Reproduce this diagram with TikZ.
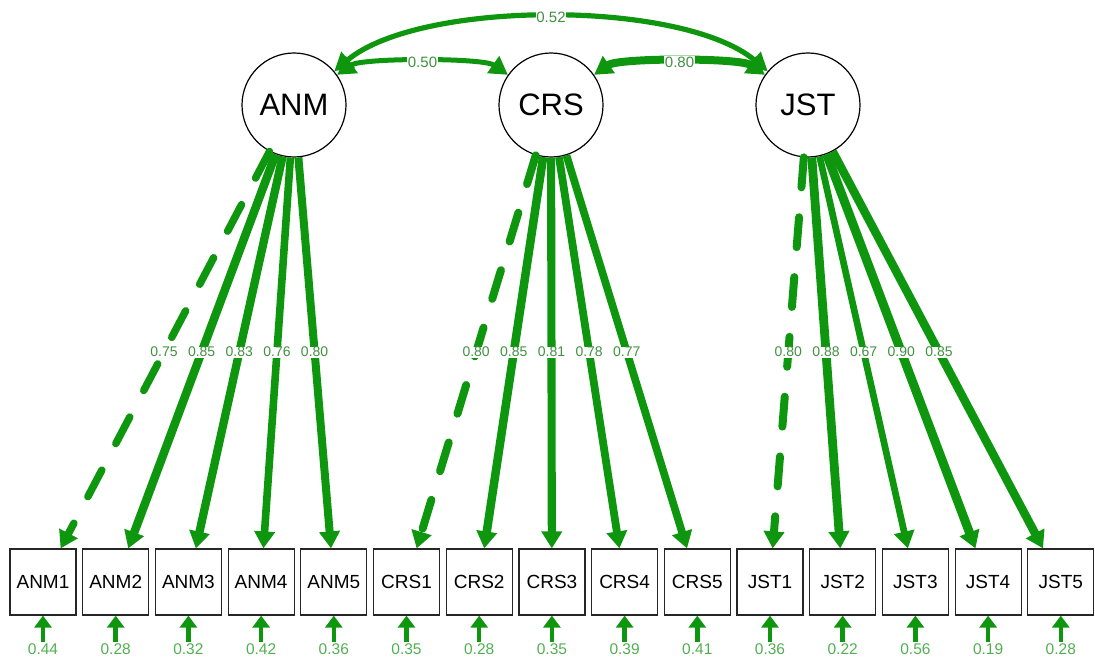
\documentclass[tikz,border=0pt]{standalone}
\usepackage{fontspec}
\setmainfont{Liberation Sans}
\usetikzlibrary{arrows.meta,calc}
\definecolor{eg}{RGB}{15,150,15}
\definecolor{lg}{RGB}{65,145,65}
\definecolor{rg}{RGB}{80,175,80}
\begin{document}
\begin{tikzpicture}[x=1pt,y=-1pt,
  lat/.style={circle, draw=black, line width=1.2pt, fill=white, minimum size=104pt, inner sep=0pt, font=\fontsize{31}{31}\selectfont},
  man/.style={rectangle, draw=black!85, line width=1.2pt, fill=white, minimum size=66pt, inner sep=0pt, font=\fontsize{19}{19}\selectfont},
  load/.style={draw=eg, -{Triangle[length=17pt,width=20pt]}},
  dashload/.style={load, line cap=round, dash pattern=on 30pt off 30pt},
  cov/.style={draw=eg, {Triangle[length=18pt,width=20pt]}-{Triangle[length=18pt,width=20pt]}},
  res/.style={draw=eg, line width=4.5pt, -{Triangle[length=12pt,width=17pt]}},
  llab/.style={fill=white, text=lg, inner sep=0.6pt, font=\fontsize{14}{14}\selectfont},
  clab/.style={fill=white, text=lg, inner sep=0.8pt, font=\fontsize{15}{15}\selectfont},
  rlab/.style={text=rg, inner sep=0pt, font=\fontsize{15.5}{15.5}\selectfont}]
\useasboundingbox (0,0) rectangle (1095,658);
% latent variables
\node[lat] (ANM) at (294,105) {ANM};
\node[lat] (CRS) at (551,105) {CRS};
\node[lat] (JST) at (808,105) {JST};
% manifest variables
\foreach \i/\n in {0/ANM1,1/ANM2,2/ANM3,3/ANM4,4/ANM5,5/CRS1,6/CRS2,7/CRS3,8/CRS4,9/CRS5,10/JST1,11/JST2,12/JST3,13/JST4,14/JST5}
  \node[man] (\n) at ({43+72.7*\i},582) {\n};
% covariances
\draw[cov, line width=5.2pt] (ANM) to[out=40,in=140,looseness=0.66] node[clab] (c52) {0.52} (JST);
\draw[cov, line width=5pt] (ANM) to[out=35,in=145,looseness=0.45] node[clab] (c50) {0.50} (CRS);
\draw[cov, line width=8pt] (CRS) to[out=35,in=145,looseness=0.45] node[clab] (c80) {0.80} (JST);
% loadings
\draw[dashload, line width=7.5pt] (ANM) -- (ANM1);
\draw[dashload, line width=8pt] (CRS) -- (CRS1);
\draw[dashload, line width=8pt] (JST) -- (JST1);
\foreach \l/\m/\w in {ANM/ANM2/8.5,ANM/ANM3/8.3,ANM/ANM4/7.6,ANM/ANM5/8.0,
                      CRS/CRS2/8.5,CRS/CRS3/8.1,CRS/CRS4/7.8,CRS/CRS5/7.7,
                      JST/JST2/8.8,JST/JST3/6.7,JST/JST4/9.0,JST/JST5/8.5}
  \draw[load, line width=\w pt] (\l) -- (\m);
\foreach \l/\m/\v in {ANM/ANM1/0.75,ANM/ANM2/0.85,ANM/ANM3/0.83,ANM/ANM4/0.76,ANM/ANM5/0.80,
                      CRS/CRS1/0.80,CRS/CRS2/0.85,CRS/CRS3/0.81,CRS/CRS4/0.78,CRS/CRS5/0.77,
                      JST/JST1/0.80,JST/JST2/0.88,JST/JST3/0.67,JST/JST4/0.90,JST/JST5/0.85}
  \node[llab] (lab\m) at ($(\l)!0.518!(\m)$) {\v};
% residuals
\foreach \m/\r in {ANM1/0.44,ANM2/0.28,ANM3/0.32,ANM4/0.42,ANM5/0.36,
                   CRS1/0.35,CRS2/0.28,CRS3/0.35,CRS4/0.39,CRS5/0.41,
                   JST1/0.36,JST2/0.22,JST3/0.56,JST4/0.19,JST5/0.28}{
  \coordinate (s\m) at ($(\m.south)+(0,26)$);
  \draw[res] (s\m) -- (\m);
  \node[rlab] (r\m) at ($(\m.south)+(0,34)$) {\r};
}
\end{tikzpicture}
\end{document}
